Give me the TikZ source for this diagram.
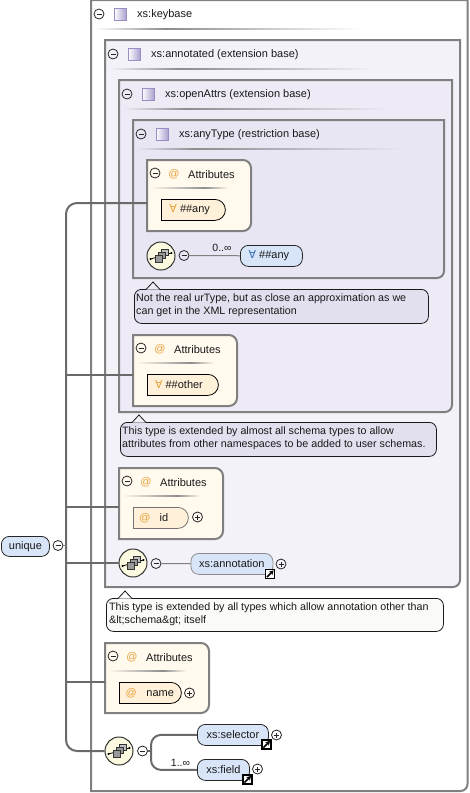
\documentclass[tikz,border=0pt]{standalone}
\usepackage{fontspec}
\setmainfont{Liberation Sans}
\newfontfamily\symfont{DejaVu Sans}
\usetikzlibrary{shapes.misc,arrows.meta}
\definecolor{bordergrey}{HTML}{808080}
\definecolor{wirebold}{HTML}{6A6A6A}
\definecolor{bgA}{HTML}{F4F2F9}
\definecolor{bgB}{HTML}{EEEBF6}
\definecolor{bgC}{HTML}{E9E6F3}
\definecolor{attrbg}{HTML}{FFF9EE}
\definecolor{attrpill}{HTML}{FFF0D9}
\definecolor{bluepill}{HTML}{D8E5F8}
\definecolor{notebg}{HTML}{E2DFEE}
\definecolor{notelight}{HTML}{FAFAF8}
\definecolor{grpbg}{HTML}{FBFAE0}
\definecolor{atorange}{HTML}{E9A23B}
\definecolor{forallblue}{HTML}{2F6DB5}
\definecolor{sqborder}{HTML}{9A8CC4}
\tikzset{
  lbl/.style={font=\fontsize{11}{13}\selectfont, inner sep=0pt, text=black!90},
  regionbox/.style={draw=bordergrey, line width=2pt},
  boxanchor/.style={draw=none, inner sep=0pt, outer sep=0pt, anchor=north west},
  blue pill/.style={draw=black!85, line width=0.8pt, fill=bluepill, rounded corners=8pt, inner sep=0pt, minimum height=21pt, anchor=north west, font=\fontsize{11}{13}\selectfont, text=black!90},
  attr pill/.style={rounded rectangle, rounded rectangle west arc=none, draw=black, line width=0.8pt, fill=attrpill, inner sep=0pt, minimum height=21pt, anchor=north west, font=\fontsize{11}{13}\selectfont, text=black!90},
  togglebase/.style={circle, draw=black!85, line width=0.8pt, minimum size=10pt, inner sep=0pt},
  minusbtn/.style={togglebase, path picture={\draw[line width=0.8pt,black!85] (-2.5pt,0)--(2.5pt,0);}},
  plusbtn/.style={togglebase, path picture={\draw[line width=0.8pt,black!85] (-2.5pt,0)--(2.5pt,0) (0,-2.5pt)--(0,2.5pt);}},
  grpcircle/.style={circle, draw=black!80, line width=1pt, fill=grpbg, minimum size=28pt, inner sep=0pt},
  wire/.style={draw=wirebold, line width=2pt},
  thinwire/.style={draw=bordergrey, line width=1pt},
  note/.style={draw=black!90, line width=0.8pt, rounded corners=7pt, inner sep=0pt, anchor=north west},
  notetext/.style={font=\fontsize{10.7}{13.5}\selectfont, inner sep=0pt, anchor=north west, align=left, text=black!90},
}
\newcommand{\regionBR}[6]{%
  \node[boxanchor, minimum width=#4pt-#2pt, minimum height=#5pt-#3pt] (#1) at (#2,#3) {};
  \filldraw[regionbox, fill=#6] (#2,#3) -- (#4,#3) [rounded corners=7pt] -- (#4,#5) [sharp corners] -- (#2,#5) -- cycle;
}
\newcommand{\attrbox}[5]{%
  \node[boxanchor, minimum width=#4pt-#2pt, minimum height=#5pt-#3pt] (#1) at (#2,#3) {};
  \filldraw[regionbox, fill=attrbg] (#2,#3) [rounded corners=8pt] -- (#4,#3) -- (#4,#5) [sharp corners] -- (#2,#5) -- cycle;
  \node[minusbtn] (#1m) at (#2+8,#3+13) {};
  \node[lbl, text=atorange] (#1at) at (#2+27,#3+14.5) {@};
  \node[lbl, anchor=west] (#1t) at (#2+41,#3+14.5) {Attributes};
  \hdrline{#2+3}{#3+28}{#2+81}{attrbg}{#2+58}
}
\newcommand{\hdrline}[5]{%
  \shade[left color=#4, right color=black!45] (#1,#2-0.8) rectangle (#5,#2+0.8);
  \shade[left color=black!45, right color=#4] (#5,#2-0.8) rectangle (#3,#2+0.8);
}
\newcommand{\header}[6]{%
  \node[minusbtn] (#1m) at (#2+8,#3+14) {};
  \draw[sqborder, line width=1pt, left color=white, right color=sqborder!85] (#2+23,#3+8.5) rectangle (#2+35.5,#3+20.5);
  \node[lbl, anchor=west] (#1t) at (#2+46,#3+15) {#4};
  \hdrline{#2+4}{#3+29}{#2+270}{#5}{#6}
}
\newcommand{\grp}[3]{%
  \node[grpcircle] (#1) at (#2,#3) {};
  \begin{scope}[shift={(#2,#3)}]
    \draw[black, line width=0.8pt] (-10.5,3) -- (10.5,-3);
    \fill[black] (-10.5,3) circle (1.2) (10.5,-3) circle (1.2);
    \filldraw[fill=black!25, draw=black!80, line width=0.7pt] (0,-6.5) rectangle (7,-0.5);
    \filldraw[fill=black!40, draw=black!80, line width=0.7pt] (-3,-3.5) rectangle (4,2.5);
    \filldraw[fill=black!40, draw=black!80, line width=0.7pt] (-6,-0.5) rectangle (1,6);
  \end{scope}
}
\newcommand{\linkicon}[3]{%
  \node[draw=black, line width=1.2pt, fill=white, minimum size=9pt, inner sep=0pt] (#1) at (#2,#3) {};
  \draw[black, line width=1.5pt, -{Stealth[length=4.5pt,width=5pt]}] (#2-3,#3+3) -- (#2+3.6,#3-3.6);
}
\newcommand{\notepointer}[3]{%
  \fill[#3] (#1-7,#2+7.5) -- (#1,#2) -- (#1+7,#2+7.5) -- cycle;
  \draw[black!90, line width=0.8pt] (#1-7,#2+7.5) -- (#1,#2) -- (#1+7,#2+7.5);
}
\begin{document}
\begin{tikzpicture}[x=1pt,y=-1pt]
\useasboundingbox (0,0) rectangle (470,793);
\fill[white] (0,0) rectangle (470,793);

\regionBR{keybase}{91}{0}{467.5}{791}{white}
\header{keybase}{91}{0}{xs:keybase}{white}{165}
\regionBR{annotated}{105}{40}{460}{587}{bgA}
\header{annotated}{105}{40}{xs:annotated (extension base)}{bgA}{180}
\regionBR{openattrs}{119}{80}{452}{412}{bgB}
\header{openattrs}{119}{80}{xs:openAttrs (extension base)}{bgB}{185}
\regionBR{anytype}{133}{120}{444}{278}{bgC}
\header{anytype}{133}{120}{xs:anyType (restriction base)}{bgC}{195}

\attrbox{attrA}{147}{160}{251}{231}
\node[attr pill, minimum width=64pt] (anyattr) at (161,199) {{\color{atorange}\symfont ∀}\hspace{3pt}\#\#any\kern6pt\null};
\attrbox{attrB}{133}{335}{237}{406}
\node[attr pill, minimum width=71pt] (otherattr) at (147,374) {{\color{atorange}\symfont ∀}\hspace{3pt}\#\#other\kern7pt\null};
\attrbox{attrC}{119}{468}{223}{539}
\node[attr pill, draw=black!55, minimum width=55pt] (idattr) at (133,507) {{\color{atorange}@}\hspace{9pt}id\kern13pt\null};
\node[plusbtn] (idplus) at (197.5,517) {};
\attrbox{attrD}{105}{643}{209}{713}
\node[attr pill, minimum width=62pt] (nameattr) at (119,682) {{\color{atorange}@}\hspace{9.5pt}name};
\node[plusbtn] (nameplus) at (189.5,693) {};

\node[note, fill=notebg, minimum width=294pt, minimum height=34pt] (noteA) at (134,289) {};
\notepointer{153}{282}{bgB}
\node[notetext] (noteAt) at (136,293.5) {Not the real urType, but as close an approximation as we\\can get in the XML representation};
\node[note, fill=notebg, minimum width=316pt, minimum height=34pt] (noteB) at (120,422) {};
\notepointer{139}{415}{bgA}
\node[notetext] (noteBt) at (122,426.5) {This type is extended by almost all schema types to allow\\attributes from other namespaces to be added to user schemas.};
\node[note, fill=notelight, minimum width=337pt, minimum height=33pt] (noteC) at (106,598) {};
\notepointer{125}{591}{white}
\node[notetext] (noteCt) at (109,602.5) {This type is extended by all types which allow annotation other than\\\&lt;schema\&gt; itself};

\node[blue pill, minimum width=48pt, minimum height=20pt] (unique) at (1,536) {unique};
\node[minusbtn] (uniquem) at (58,545.5) {};

\grp{grpA}{161}{256}
\node[minusbtn] (grpAm) at (184,255.5) {};
\node[blue pill, minimum width=62pt] (anyelem) at (240,245) {{\color{forallblue}\symfont ∀}\hspace{3pt}\#\#any\kern5pt\null};
\draw[thinwire] (grpAm) -- (anyelem);
\node[lbl, font=\fontsize{10.5}{12}\selectfont] (anycard) at (222,248) {0..∞};

\grp{grpB}{133}{563}
\node[minusbtn] (grpBm) at (156,563.5) {};
\node[blue pill, draw=black!45, minimum width=82pt] (annot) at (190.5,553) {xs:annotation};
\linkicon{annotl}{270}{574}
\node[plusbtn] (annotp) at (281,564) {};
\draw[thinwire] (grpBm) -- (annot);

\grp{grpC}{119}{751}
\node[minusbtn] (grpCm) at (142.5,751) {};
\node[blue pill, minimum width=71pt] (selector) at (197,724) {xs:selector};
\linkicon{selectorl}{266.5}{744.5}
\node[plusbtn] (selectorp) at (276.5,735) {};
\node[blue pill, minimum width=52pt] (field) at (197,759) {xs:field};
\linkicon{fieldl}{247.5}{779.5}
\node[plusbtn] (fieldp) at (257.5,769) {};
\node[lbl, font=\fontsize{10.5}{12}\selectfont] (fieldcard) at (180.5,763) {1..∞};
\coordinate (forkx) at (151,751);
\draw[wire, rounded corners=10pt] (selector.west) -- (forkx |- selector.west) -- (forkx |- field.west) -- (field.west);
\draw[wire] (grpCm.east) -- (forkx);

\coordinate (spinetop) at (66,203);
\coordinate (spinebot) at (66,751);
\coordinate (branchB) at (66,375);
\coordinate (branchC) at (66,507);
\coordinate (branchD) at (66,682);
\draw[wire, rounded corners=11pt] (attrA.west |- spinetop) -- (spinetop) -- (spinebot) -- (grpC.west);
\draw[wire, line width=2.6pt] (branchB) -- (66,740);
\draw[wire, line width=1.6pt] (branchB) -- (attrB.west |- branchB);
\draw[wire, line width=2.4pt] (branchC) -- (attrC.west |- branchC);
\draw[wire, line width=2.4pt] (spinetop |- grpB) -- (grpB.west);
\draw[wire] (branchD) -- (attrD.west |- branchD);
\draw[thinwire, line width=1.6pt] (uniquem.east) -- (spinetop |- uniquem);
\end{tikzpicture}
\end{document}
